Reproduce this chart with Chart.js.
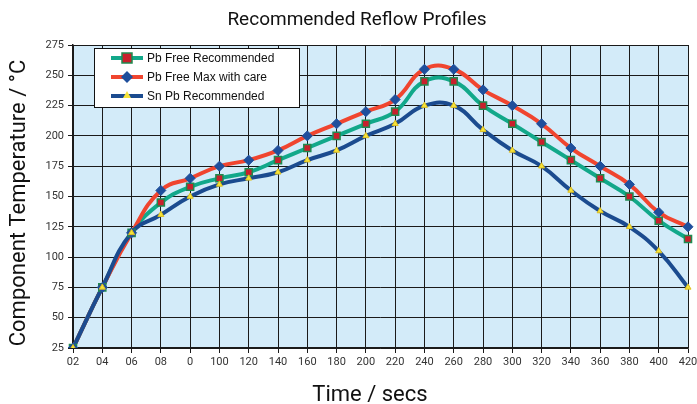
<!DOCTYPE html>
<html>
<head>
<meta charset="utf-8">
<script src="https://cdn.jsdelivr.net/npm/chart.js@4"></script>
<style>
html,body{margin:0;padding:0;background:#fff;}
#wrap{width:697px;height:404px;position:relative;}
</style>
</head>
<body>
<div id="wrap"><canvas id="c" width="697" height="404"></canvas></div>
<script>
const categories = ["02","04","06","08","0","100","120","140","160","180","200","220","240","260","280","300","320","340","360","380","400","420"];
const pbFreeRecommended = [25,75,120,145,158,165,170,180,190,200,210,220,245,245,225,210,195,180,165,150,130,115];
const pbFreeMax = [25,75,120,155,165,175,180,188,200,210,220,230,255,255,238,225,210,190,175,160,137,125];
const snPbRecommended = [25,75,120,135,150,160,165,170,180,188,200,210,225,225,205,188,175,155,138,125,105,75];
const yTicks = [25,50,75,100,125,150,175,200,225,250,275];
const seriesNames = ["Pb Free Recommended","Pb Free Max with care","Sn Pb Recommended"];

const C_GREEN = '#12a88a', C_RED = '#f0452f', C_BLUE = '#1b4b8f';
const SQ_FILL = '#c8202c', SQ_BORDER = '#1f8a50', DIA = '#1f4f9c', TRI = '#f6e43a';

function lineDs(data, color, order){
  return {data, borderColor: color, backgroundColor: color, borderWidth: 4, tension: 0.45,
    pointRadius: 0, pointHoverRadius: 0, fill: false, order};
}
function ptDs(data, style, fillC, borderC, radius, bw, order){
  return {data, showLine: false, pointStyle: style, pointRadius: radius, pointBackgroundColor: fillC,
    pointBorderColor: borderC, pointBorderWidth: bw, borderColor: borderC, order};
}

const bgPlugin = {
  id: 'bg',
  beforeDraw(chart){
    const {ctx, chartArea: a} = chart;
    ctx.save();
    ctx.fillStyle = '#d3ebf9';
    ctx.fillRect(a.left, a.top, a.right - a.left, a.bottom - a.top);
    ctx.restore();
  },
  afterDraw(chart){
    const ctx = chart.ctx;
    ctx.save();
    ctx.fillStyle = '#111';
    ctx.textAlign = 'center';
    ctx.textBaseline = 'middle';
    ctx.font = '19px Roboto';
    ctx.fillText('Recommended Reflow Profiles', 357, 20);
    ctx.font = '22px Roboto';
    ctx.fillText('Time / secs', 370, 395);
    ctx.save();
    ctx.translate(19, 203);
    ctx.rotate(-Math.PI/2);
    ctx.fillText('Component Temperature / °C', 0, 0);
    ctx.restore();
    // legend
    const bx = 94, by = 48, bw = 205, bh = 59;
    ctx.fillStyle = '#fff';
    ctx.fillRect(bx, by, bw, bh);
    ctx.strokeStyle = '#111';
    ctx.lineWidth = 1;
    ctx.strokeRect(bx + 0.5, by + 0.5, bw, bh);
    const rows = [58, 77, 96];
    const cols = [C_GREEN, C_RED, C_BLUE];
    rows.forEach((y, i) => {
      ctx.strokeStyle = cols[i];
      ctx.lineWidth = 4;
      ctx.beginPath(); ctx.moveTo(111, y); ctx.lineTo(143, y); ctx.stroke();
      const mx = 127;
      if (i === 0){
        ctx.fillStyle = SQ_FILL; ctx.strokeStyle = SQ_BORDER; ctx.lineWidth = 1.5;
        ctx.fillRect(mx-5, y-5, 10, 10); ctx.strokeRect(mx-5, y-5, 10, 10);
      } else if (i === 1){
        ctx.fillStyle = DIA;
        ctx.beginPath(); ctx.moveTo(mx, y-6); ctx.lineTo(mx+6, y); ctx.lineTo(mx, y+6); ctx.lineTo(mx-6, y); ctx.closePath(); ctx.fill();
      } else {
        ctx.fillStyle = TRI;
        ctx.beginPath(); ctx.moveTo(mx, y-5); ctx.lineTo(mx+4, y+2); ctx.lineTo(mx-4, y+2); ctx.closePath(); ctx.fill();
      }
      ctx.fillStyle = '#111';
      ctx.textAlign = 'left';
      ctx.font = '12px "Liberation Sans", Arial';
      ctx.fillText(seriesNames[i], 147, y + 1);
    });
    ctx.restore();
  }
};

new Chart(document.getElementById('c'), {
  type: 'line',
  data: {
    labels: categories,
    datasets: [
      lineDs(pbFreeRecommended, C_GREEN, 12),
      lineDs(pbFreeMax, C_RED, 11),
      lineDs(snPbRecommended, C_BLUE, 10),
      ptDs(pbFreeRecommended, 'rect', SQ_FILL, SQ_BORDER, 5, 1.5, 3),
      ptDs(pbFreeMax, 'rectRot', DIA, DIA, 5, 1, 2),
      ptDs(snPbRecommended, 'triangle', TRI, '#e0c020', 3.5, 1, 1)
    ]
  },
  options: {
    responsive: false,
    animation: false,
    events: [],
    layout: {padding: {top: 45, left: 0, right: 9, bottom: 0}},
    plugins: {legend: {display: false}, title: {display: false}, tooltip: {enabled: false}},
    scales: {
      x: {
        type: 'category',
        offset: false,
        grid: {color: '#1a1a1a', lineWidth: 1, tickLength: 5, offset: false, tickColor: '#1a1a1a'},
        border: {color: '#1a1a1a', width: 1.5},
        ticks: {autoSkip: false, maxRotation: 0, color: '#333', font: {family: 'Roboto', size: 11}, padding: 3},
        afterFit(s){ s.height = 56; s.paddingLeft = 0; s.paddingRight = 0; }
      },
      y: {
        min: 25, max: 275,
        afterBuildTicks(s){ s.ticks = yTicks.map(v => ({value: v})); },
        grid: {color: '#1a1a1a', lineWidth: 1, tickLength: 5, tickColor: '#1a1a1a'},
        border: {color: '#1a1a1a', width: 1.5},
        ticks: {color: '#333', font: {family: 'Roboto', size: 11}, padding: 4},
        afterFit(s){ s.width = 73; s.paddingTop = 0; s.paddingBottom = 0; }
      }
    }
  },
  plugins: [bgPlugin]
});
</script>
</body>
</html>
